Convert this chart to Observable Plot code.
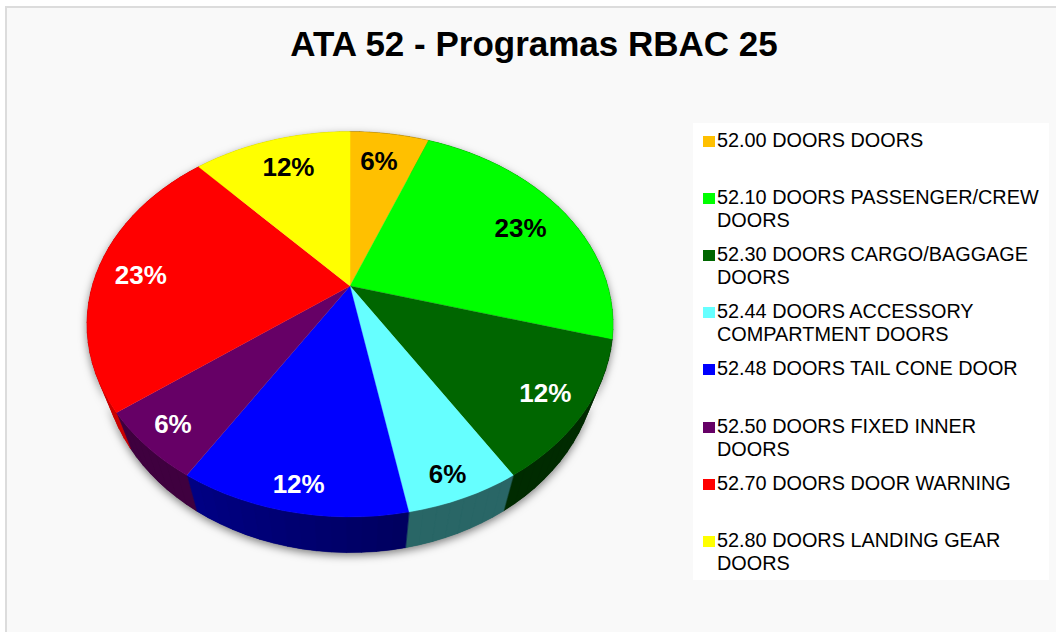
<!DOCTYPE html>
<html>
<head>
<meta charset="utf-8">
<script src="https://cdn.jsdelivr.net/npm/d3@7"></script>
<script src="https://cdn.jsdelivr.net/npm/@observablehq/plot@0.6"></script>
<style>
  html, body { margin: 0; padding: 0; background: #fff; overflow: hidden; }
  #page { position: relative; width: 1056px; height: 632px; overflow: hidden; font-family: "Liberation Sans", Arial, sans-serif; }
  #frame { position: absolute; left: 5px; top: 6px; width: 1100px; height: 700px; box-sizing: border-box; border: 2px solid #dcdcdc; background: #f9f9f9; }
  #title { position: absolute; left: 0; width: 1068px; top: 22px; text-align: center; font-size: 35px; line-height: 44px; font-weight: 700; color: #000; }
  #chart { position: absolute; left: 0; top: 0; }
  #legend { position: absolute; left: 693px; top: 123px; width: 356px; height: 457px; background: #fff; }
  .entry { position: absolute; left: 24px; width: 330px; font-size: 19.85px; line-height: 23px; color: #000; }
  .swatch { position: absolute; left: -14.5px; top: 6.5px; width: 12px; height: 11.5px; }
</style>
</head>
<body>
<div id="page">
  <div id="frame"></div>
  <div id="chart"></div>
  <div id="title">ATA 52 - Programas RBAC 25</div>
  <div id="legend"></div>
</div>
<script>
// ---- Data ----
const categories = [
  "52.00 DOORS DOORS",
  "52.10 DOORS PASSENGER/CREW DOORS",
  "52.30 DOORS CARGO/BAGGAGE DOORS",
  "52.44 DOORS ACCESSORY COMPARTMENT DOORS",
  "52.48 DOORS TAIL CONE DOOR",
  "52.50 DOORS FIXED INNER DOORS",
  "52.70 DOORS DOOR WARNING",
  "52.80 DOORS LANDING GEAR DOORS"
];
const counts = [1, 4, 2, 1, 2, 1, 4, 2];
const percentLabels = ["6%", "23%", "12%", "6%", "12%", "6%", "23%", "12%"];
const sliceColors = ["#ffc000", "#00ff00", "#006600", "#66ffff", "#0000ff", "#660066", "#ff0000", "#ffff00"];
const labelInks = ["#000", "#000", "#fff", "#000", "#fff", "#fff", "#fff", "#000"];
const legendLines = [
  ["52.00 DOORS DOORS"],
  ["52.10 DOORS PASSENGER/CREW", "DOORS"],
  ["52.30 DOORS CARGO/BAGGAGE", "DOORS"],
  ["52.44 DOORS ACCESSORY", "COMPARTMENT DOORS"],
  ["52.48 DOORS TAIL CONE DOOR"],
  ["52.50 DOORS FIXED INNER", "DOORS"],
  ["52.70 DOORS DOOR WARNING"],
  ["52.80 DOORS LANDING GEAR", "DOORS"]
];

// ---- Layout of the tilted disc ----
const cx = 349.5, cy = 285.5, a = 257.7, b = 185, k = -0.199;
const depth = 35.6, taper = 0.94;
const labelReachX = [0.73, 0.805, 0.836, 0.854, 0.872, 0.87, 0.83, 0.784];
const labelReachY = [0.83, 0.787, 0.832, 0.88, 0.872, 0.854, 0.71, 0.824];
const sideLightStart = [0.5, 0.5, 0.42, 0.40, 0.37, 0.62, 0.80, 0.8];
const sideLightEnd   = [0.5, 0.5, 0.42, 0.40, 0.52, 0.62, 0.72, 0.8];

const total = d3.sum(counts);
const cumulative = d3.cumsum(counts);
const rim = (turn) => {
  const t = turn * 2 * Math.PI, X = Math.sin(t), Y = -Math.cos(t), w = 1 + k * Y;
  return [cx + a * X / w, cy + b * Y / w];
};
const lower = ([x, y]) => [cx + (x - cx) * taper, y + depth];
const dim = (color, f) => { const c = d3.rgb(color); return d3.rgb(c.r * f, c.g * f, c.b * f).formatHex(); };

const faces = [], walls = [], strips = [], labels = [];
categories.forEach((category, i) => {
  const start = (cumulative[i] - counts[i]) / total, end = cumulative[i] / total;
  const steps = Math.ceil((end - start) * 120);
  const turns = d3.range(steps + 1).map(j => start + (end - start) * j / steps);
  const wallColor = dim(sliceColors[i], (sideLightStart[i] + sideLightEnd[i]) / 2);
  faces.push({category, x: cx, y: cy});
  turns.forEach(t => {
    const [x, y] = rim(t);
    faces.push({category, x, y});
    walls.push({category, color: wallColor, x, y});
  });
  turns.slice().reverse().forEach(t => {
    const [x, y] = lower(rim(t));
    walls.push({category, color: wallColor, x, y});
  });
  for (let j = 0; j < steps; j++) {
    const p = rim(turns[j]), q = rim(turns[j + 1]);
    const id = `${i}-${j}`;
    const color = dim(sliceColors[i], sideLightStart[i] + (sideLightEnd[i] - sideLightStart[i]) * (j + 0.5) / steps);
    [p, q, lower(q), lower(p)].forEach(([x, y]) => strips.push({id, color, x, y}));
  }
  const [mx, my] = rim((start + end) / 2);
  labels.push({
    text: percentLabels[i],
    ink: labelInks[i],
    x: cx + (mx - cx) * labelReachX[i],
    y: cy + (my - cy) * labelReachY[i]
  });
});

const shadowed = (index, scales, values, dims, context, next) => {
  const g = next(index, scales, values, dims, context);
  g.style.filter = "drop-shadow(0px 3px 4px rgba(0,0,0,0.5))";
  return g;
};

const plot = Plot.plot({
  width: 1056, height: 632,
  margin: 0,
  style: {background: "transparent", overflow: "visible"},
  x: {domain: [0, 1056], range: [0, 1056], axis: null},
  y: {domain: [0, 632], range: [0, 632], axis: null},
  color: {type: "ordinal", domain: categories, range: sliceColors},
  marks: [
    Plot.line(walls, {
      x: "x", y: "y", z: "category",
      fill: {value: d => d.color, scale: null},
      stroke: "none",
      curve: "linear-closed",
      render: shadowed
    }),
    Plot.line(strips, {
      x: "x", y: "y", z: "id",
      fill: {value: d => d.color, scale: null},
      stroke: {value: d => d.color, scale: null},
      strokeWidth: 0.5,
      curve: "linear-closed"
    }),
    Plot.line(faces, {
      x: "x", y: "y", z: "category",
      fill: "category", stroke: "category", strokeWidth: 0.3, curve: "linear-closed"
    }),
    Plot.text(labels, {
      x: "x", y: "y", dy: 2, text: "text",
      fill: {value: d => d.ink, scale: null},
      fontSize: 26, fontWeight: 700,
      fontFamily: "Liberation Sans, Arial, sans-serif"
    })
  ]
});
document.getElementById("chart").append(plot);

// ---- Legend ----
const legendTop = [6, 63, 120, 177, 234, 292, 349, 406];
const legend = document.getElementById("legend");
legendLines.forEach((lines, i) => {
  const entry = document.createElement("div");
  entry.className = "entry";
  entry.style.top = legendTop[i] + "px";
  entry.innerHTML = lines.join("<br>");
  const swatch = document.createElement("span");
  swatch.className = "swatch";
  swatch.style.background = sliceColors[i];
  entry.append(swatch);
  legend.append(entry);
});
</script>
</body>
</html>
